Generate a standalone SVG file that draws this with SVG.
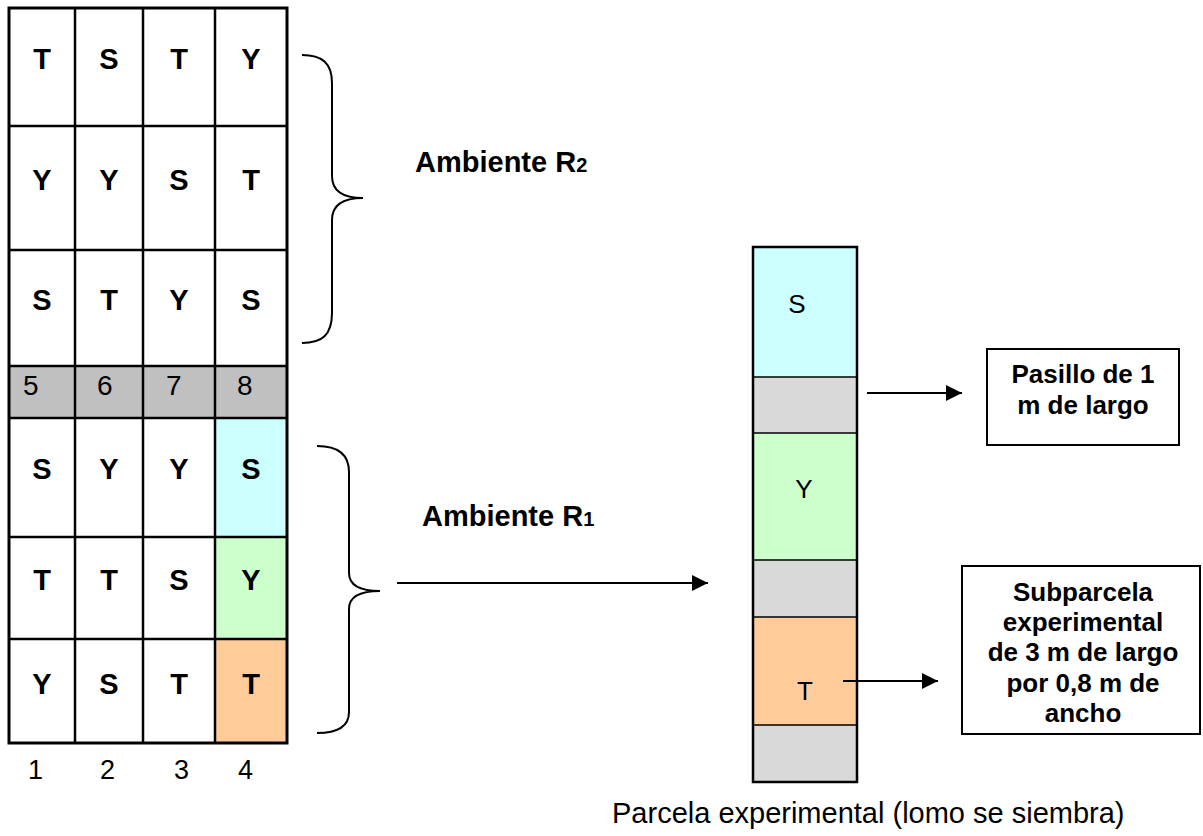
<svg xmlns="http://www.w3.org/2000/svg" width="1203" height="836" viewBox="0 0 1203 836">
<style>
.cell{fill:#fff;stroke:#000;stroke-width:2.5}
.lb{font-family:"Liberation Sans",Arial,sans-serif;font-weight:bold;font-size:29px;fill:#000;text-anchor:middle}
.ln{font-family:"Liberation Sans",Arial,sans-serif;font-size:26px;fill:#000}
.dg{font-family:"Liberation Sans",Arial,sans-serif;font-size:27px;fill:#000}
.bx{font-family:"Liberation Sans",Arial,sans-serif;font-weight:bold;font-size:26px;fill:#000;text-anchor:middle}
.conn{stroke:#000;stroke-width:2;fill:none}
.brace{stroke:#000;stroke-width:2;fill:none}
.seg{stroke:#000;stroke-width:1.5}
</style>
<defs>
<marker id="ah" markerUnits="userSpaceOnUse" markerWidth="16" markerHeight="16" viewBox="0 0 16 16" refX="16" refY="8" orient="auto">
<path d="M0,0 L16,8 L0,16 z" fill="#000"/>
</marker>
</defs>
<rect width="1203" height="836" fill="#fff"/>

<g id="grid">
<rect x="9" y="366" width="278" height="52" fill="#c0c0c0"/>
<rect x="215" y="418" width="72" height="119" fill="#ccffff"/>
<rect x="215" y="537" width="72" height="102" fill="#ccffcc"/>
<rect x="215" y="639" width="72" height="104" fill="#ffcc99"/>
<g stroke="#000" stroke-width="2.5">
<line x1="75" y1="8" x2="75" y2="743"/>
<line x1="143" y1="8" x2="143" y2="743"/>
<line x1="215" y1="8" x2="215" y2="743"/>
<line x1="9" y1="126" x2="287" y2="126"/>
<line x1="9" y1="250" x2="287" y2="250"/>
<line x1="9" y1="366" x2="287" y2="366"/>
<line x1="9" y1="418" x2="287" y2="418"/>
<line x1="9" y1="537" x2="287" y2="537"/>
<line x1="9" y1="639" x2="287" y2="639"/>
</g>
<rect x="9" y="8" width="278" height="735" fill="none" stroke="#000" stroke-width="3"/>
<g class="lb">
<text x="42" y="69">T</text><text x="109" y="69">S</text><text x="179" y="69">T</text><text x="251" y="69">Y</text>
<text x="42" y="190">Y</text><text x="109" y="190">Y</text><text x="179" y="190">S</text><text x="251" y="190">T</text>
<text x="42" y="310">S</text><text x="109" y="310">T</text><text x="179" y="310">Y</text><text x="251" y="310">S</text>
<text x="42" y="479">S</text><text x="109" y="479">Y</text><text x="179" y="479">Y</text><text x="251" y="479">S</text>
<text x="42" y="590">T</text><text x="109" y="590">T</text><text x="179" y="590">S</text><text x="251" y="590">Y</text>
<text x="42" y="694">Y</text><text x="109" y="694">S</text><text x="179" y="694">T</text><text x="251" y="694">T</text>
</g>
<g class="dg">
<text x="23" y="395" style="font-size:28px">5</text><text x="97" y="395" style="font-size:28px">6</text><text x="166" y="395" style="font-size:28px">7</text><text x="237" y="395" style="font-size:28px">8</text>
<text x="28" y="779">1</text><text x="100" y="779">2</text><text x="174" y="779">3</text><text x="238" y="779">4</text>
</g>
</g>

<g id="braceR2">
<path class="brace" d="M302,55 C322,55 332,63 332,83 L332,176 C332,190 342,198 363,198 C342,198 332,206 332,220 L332,313 C332,335 322,343 302,343"/>
<text class="lb" x="415" y="172" style="text-anchor:start">Ambiente R<tspan font-size="20">2</tspan></text>
</g>

<g id="braceR1">
<path class="brace" d="M317,446 C337,446 349,454 349,472 L349,573 C349,585 359,591 380,591 C359,591 349,597 349,609 L349,712 C349,727 337,733 317,733"/>
<text class="lb" x="422" y="526" style="text-anchor:start">Ambiente R<tspan font-size="20">1</tspan></text>
</g>

<g id="parcela">
<rect x="753" y="247" width="104" height="130" fill="#ccffff"/>
<rect x="753" y="377" width="104" height="56" fill="#d9d9d9"/>
<rect x="753" y="433" width="104" height="127" fill="#ccffcc"/>
<rect x="753" y="560" width="104" height="57" fill="#d9d9d9"/>
<rect x="753" y="617" width="104" height="108" fill="#ffcc99"/>
<rect x="753" y="725" width="104" height="57" fill="#d9d9d9"/>
<line class="seg" x1="753" y1="377" x2="857" y2="377"/>
<line class="seg" x1="753" y1="433" x2="857" y2="433"/>
<line class="seg" x1="753" y1="560" x2="857" y2="560"/>
<line class="seg" x1="753" y1="617" x2="857" y2="617"/>
<line class="seg" x1="753" y1="725" x2="857" y2="725"/>
<rect x="753" y="247" width="104" height="535" fill="none" stroke="#000" stroke-width="2.5"/>
<text class="ln" x="797" y="313" text-anchor="middle">S</text>
<text class="ln" x="804" y="498" text-anchor="middle">Y</text>
<text class="ln" x="805" y="700" text-anchor="middle">T</text>
<text class="ln" x="612" y="823" style="font-size:29px">Parcela experimental (lomo se siembra)</text>
</g>

<g id="pasillo">
<rect x="987" y="349" width="192" height="96" fill="#fff" stroke="#000" stroke-width="2"/>
<text class="bx" x="1083" y="383">Pasillo de 1</text>
<text class="bx" x="1083" y="414">m de largo</text>
</g>

<g id="subparcela">
<rect x="962" y="566" width="238" height="168" fill="#fff" stroke="#000" stroke-width="2"/>
<text class="bx" x="1083" y="601">Subparcela</text>
<text class="bx" x="1083" y="631">experimental</text>
<text class="bx" x="1083" y="661">de 3 m de largo</text>
<text class="bx" x="1083" y="692">por 0,8 m de</text>
<text class="bx" x="1083" y="722">ancho</text>
</g>

<g id="connectors">
<line class="conn" x1="397" y1="583" x2="708" y2="583" marker-end="url(#ah)"/>
<line class="conn" x1="867" y1="393" x2="962" y2="393" marker-end="url(#ah)"/>
<line class="conn" x1="843" y1="681" x2="938" y2="681" marker-end="url(#ah)"/>
</g>
</svg>
